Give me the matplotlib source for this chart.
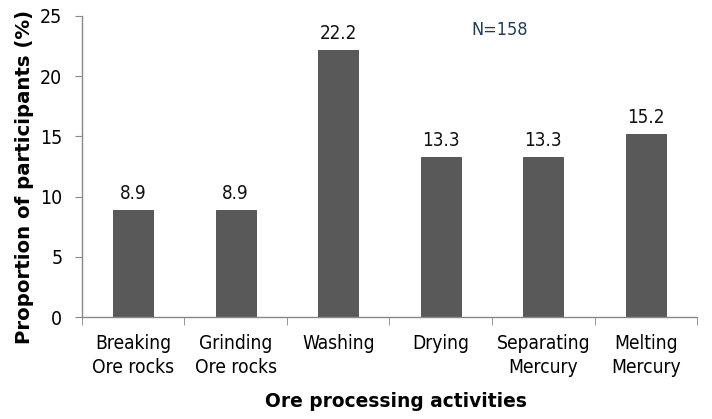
import matplotlib
matplotlib.use("Agg")
import matplotlib.pyplot as plt
import numpy as np

categories = ["Breaking\nOre rocks", "Grinding\nOre rocks", "Washing", "Drying",
              "Separating\nMercury", "Melting\nMercury"]
values = [8.9, 8.9, 22.2, 13.3, 13.3, 15.2]
y_ticks = [0, 5, 10, 15, 20, 25]

plt.rcParams['font.family'] = ['DejaVu Sans']
plt.rcParams['font.stretch'] = 'condensed'
fig = plt.figure(figsize=(7.12, 4.19), dpi=100)
ax = fig.add_axes([0.115, 0.243, 0.864, 0.719])

x = np.arange(len(categories))
bars = ax.bar(x, values, width=0.39, color="#595959", edgecolor="#4a4a4a", linewidth=0.6)
for xi, v in zip(x, values):
    ax.text(xi, v + 0.55, f"{v:.1f}", ha="center", va="bottom", fontsize=13.5, color="#111111")

ax.set_xlim(-0.5, len(categories) - 0.5)
ax.set_ylim(0, 25)
ax.set_yticks(y_ticks)
ax.tick_params(axis="y", labelsize=14, length=5, color="#888888", direction="out", pad=9)
ax.set_xticks(x)
ax.set_xticklabels(categories, fontsize=13.8, linespacing=1.32)
ax.tick_params(axis="x", which="major", length=0, pad=12)
ax.set_xticks(np.arange(-0.5, len(categories)), minor=True)
ax.tick_params(axis="x", which="minor", length=6, color="#888888", direction="out")

for s in ["top", "right"]:
    ax.spines[s].set_visible(False)
for s in ["left", "bottom"]:
    ax.spines[s].set_color("#888888")
    ax.spines[s].set_linewidth(1.0)

ax.set_ylabel("Proportion of participants (%)", fontsize=14.2, fontweight="bold",
              fontstretch="normal")
ax.yaxis.set_label_coords(-0.078, 0.465)
ax.set_xlabel("Ore processing activities", fontsize=13.4, fontweight="bold",
              fontstretch="normal")
ax.xaxis.set_label_coords(0.51, -0.249)

ax.text(0.702, 0.928, "N=158", transform=fig.transFigure, ha="center", va="center",
        fontsize=13, color="#1f3d5a")

fig.savefig("out.png", dpi=100)
